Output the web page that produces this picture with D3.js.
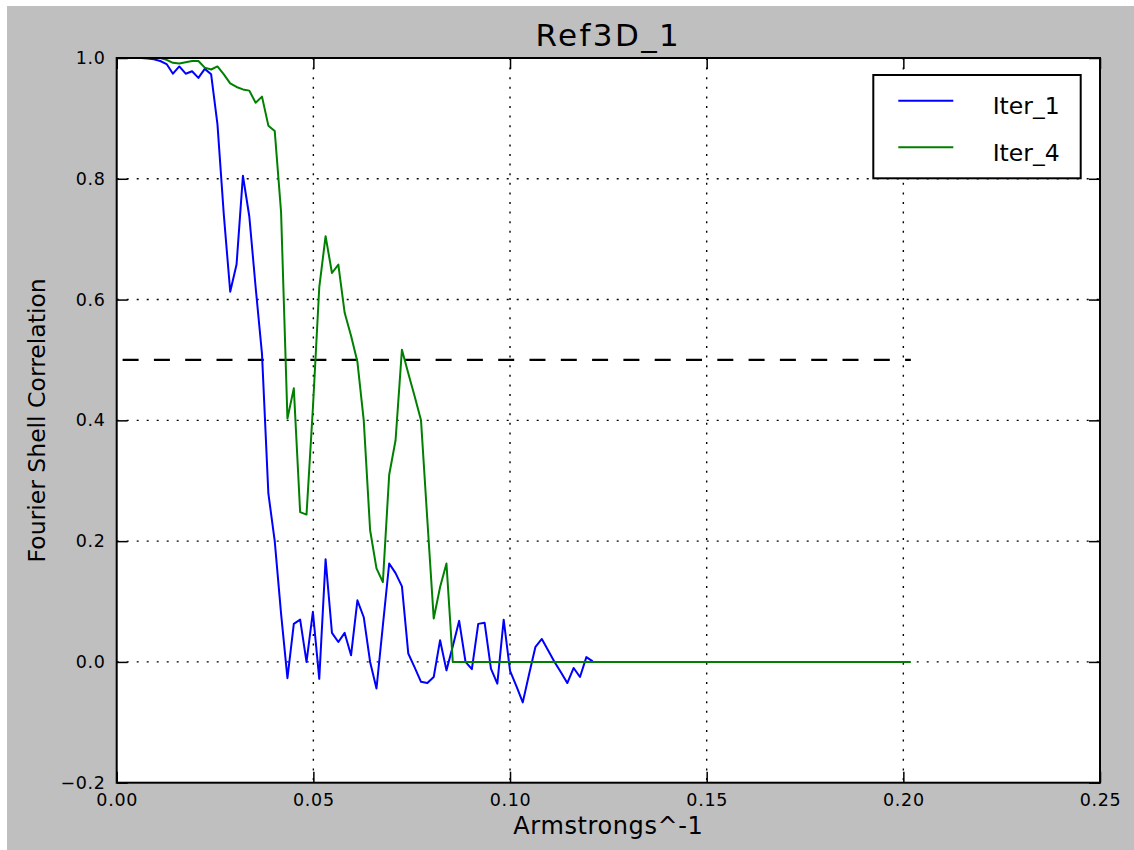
<!DOCTYPE html>
<html>
<head>
<meta charset="utf-8">
<script src="https://d3js.org/d3.v7.min.js"></script>
<style>
  html, body { margin: 0; padding: 0; background: #ffffff; }
  svg { display: block; font-family: "DejaVu Sans", sans-serif; }
</style>
</head>
<body>
<div id="fsc-chart"></div>
<script>
// spatial frequency (1/A) of each shell
var freq = [
  0.00460, 0.00622, 0.00784, 0.00945, 0.01107, 0.01269, 0.01430, 0.01592,
  0.01754, 0.01916, 0.02077, 0.02239, 0.02401, 0.02562, 0.02724, 0.02886,
  0.03047, 0.03209, 0.03371, 0.03533, 0.03694, 0.03856, 0.04018, 0.04179,
  0.04341, 0.04503, 0.04664, 0.04826, 0.04988, 0.05150, 0.05311, 0.05473,
  0.05635, 0.05796, 0.05958, 0.06120, 0.06281, 0.06443, 0.06605, 0.06767,
  0.06928, 0.07090, 0.07252, 0.07413, 0.07575, 0.07737, 0.07898, 0.08060,
  0.08222, 0.08384, 0.08545, 0.08707, 0.08869, 0.09030, 0.09192, 0.09354,
  0.09515, 0.09677, 0.09839, 0.10001, 0.10162, 0.10324, 0.10486, 0.10647,
  0.10809, 0.10971, 0.11132, 0.11294, 0.11456, 0.11618, 0.11779, 0.11941,
  0.12103
];

// FSC of the first iteration
var iter1 = [
  1.000, 1.000, 0.999, 0.998, 0.995, 0.990, 0.974, 0.986,
  0.974, 0.978, 0.967, 0.982, 0.973, 0.890, 0.740, 0.613,
  0.658, 0.805, 0.738, 0.620, 0.510, 0.279, 0.200, 0.080,
  -0.027, 0.063, 0.070, 0.000, 0.083, -0.028, 0.170, 0.048,
  0.033, 0.048, 0.011, 0.102, 0.074, 0.000, -0.044, 0.060,
  0.163, 0.147, 0.125, 0.014, -0.009, -0.033, -0.035, -0.025,
  0.036, -0.014, 0.026, 0.068, 0.000, -0.012, 0.063, 0.065,
  -0.011, -0.036, 0.070, -0.015, -0.040, -0.067, -0.020, 0.025,
  0.038, 0.019, 0.000, -0.017, -0.035, -0.010, -0.025, 0.008,
  0.001
];

// FSC of the fourth iteration (null = no shell)
var iter4 = [
  null, null, null, null, 1.000, 0.997, 0.992, 0.991,
  0.993, 0.995, 0.995, 0.984, 0.981, 0.986, 0.973, 0.958,
  0.952, 0.948, 0.946, 0.926, 0.936, 0.888, 0.879, 0.745,
  0.403, 0.453, 0.248, 0.244, 0.420, 0.620, 0.705, 0.644,
  0.658, 0.578, 0.540, 0.497, 0.400, 0.218, 0.155, 0.132,
  0.310, 0.367, 0.517, 0.478, 0.440, 0.400, 0.235, 0.072,
  0.124, 0.163, 0.000, 0.000, 0.000, 0.000, 0.000, 0.000,
  0.000, 0.000, 0.000, 0.000, 0.000, 0.000, 0.000, 0.000,
  0.000, 0.000, 0.000, 0.000, 0.000, 0.000, 0.000, 0.000,
  0.000
];

// iter4 is flat at zero out to the last shell
var lastShell = 0.2019;
var thresholdStart = 0.0015;
var threshold = 0.5;

var seriesNames = ["Iter_1", "Iter_4"];
var seriesColors = ["#0000ff", "#008000"];
var xTicks = [0.00, 0.05, 0.10, 0.15, 0.20, 0.25];
var yTicks = [-0.2, 0.0, 0.2, 0.4, 0.6, 0.8, 1.0];

var W = 1134, H = 850;
var margin = {top: 58, right: 34, bottom: 67.3, left: 116.7},
    width = W - margin.left - margin.right,
    height = H - margin.top - margin.bottom;

var root = d3.select("#fsc-chart")
  .append("svg")
  .attr("width", W)
  .attr("height", H);

// figure background (grey, with thin white strip top/left)
root.append("rect")
  .attr("x", 7).attr("y", 6)
  .attr("width", W - 7).attr("height", H - 6)
  .attr("fill", "#bfbfbf");

var svg = root.append("g")
  .attr("transform", "translate(" + margin.left + "," + margin.top + ")");

svg.append("rect")
  .attr("width", width)
  .attr("height", height)
  .attr("fill", "#ffffff");

var x = d3.scaleLinear().domain([0, 0.25]).range([0, width]);
var y = d3.scaleLinear().domain([-0.2, 1.0]).range([height, 0]);

// dotted grid
svg.append("g")
  .selectAll("line")
  .data(xTicks.slice(1, -1))
  .enter().append("line")
  .attr("x1", function(d) { return x(d); })
  .attr("x2", function(d) { return x(d); })
  .attr("y1", 0).attr("y2", height)
  .attr("stroke", "#000").attr("stroke-width", 1.4)
  .attr("stroke-dasharray", "2,7.6");

svg.append("g")
  .selectAll("line")
  .data(yTicks.slice(1, -1))
  .enter().append("line")
  .attr("y1", function(d) { return y(d); })
  .attr("y2", function(d) { return y(d); })
  .attr("x1", 0).attr("x2", width)
  .attr("stroke", "#000").attr("stroke-width", 1.4)
  .attr("stroke-dasharray", "2,8");

// 0.5 threshold
svg.append("line")
  .attr("x1", x(thresholdStart)).attr("x2", x(lastShell))
  .attr("y1", y(threshold)).attr("y2", y(threshold))
  .attr("stroke", "#000").attr("stroke-width", 2.2)
  .attr("stroke-dasharray", "16,15.3");

// curves
var line = d3.line()
  .defined(function(d) { return d.v !== null; })
  .x(function(d) { return x(d.f); })
  .y(function(d) { return y(d.v); });

var series1 = freq.map(function(f, i) { return {f: f, v: iter1[i]}; });
var series4 = freq.map(function(f, i) { return {f: f, v: iter4[i]}; });
series4.push({f: lastShell, v: 0});

[series1, series4].forEach(function(s, i) {
  svg.append("path")
    .datum(s)
    .attr("fill", "none")
    .attr("stroke", seriesColors[i])
    .attr("stroke-width", 2)
    .attr("stroke-linejoin", "round")
    .attr("d", line);
});

// axes, ticks pointing inward on all four sides
var fmtX = d3.format(".2f"), fmtY = d3.format(".1f");

function styleAxis(g) {
  g.select(".domain").remove();
  g.selectAll(".tick line").attr("stroke", "#000").attr("stroke-width", 1.5);
  g.selectAll(".tick text")
    .attr("fill", "#000")
    .style("font-family", "DejaVu Sans")
    .style("font-size", "17.5px")
    .style("letter-spacing", "0.7px");
}

svg.append("g")
  .attr("transform", "translate(0," + height + ")")
  .call(d3.axisBottom(x).tickValues(xTicks).tickFormat(fmtX)
    .tickSizeInner(-11).tickSizeOuter(0).tickPadding(11))
  .call(styleAxis);

svg.append("g")
  .call(d3.axisLeft(y).tickValues(yTicks).tickFormat(fmtY)
    .tickSizeInner(-11).tickSizeOuter(0).tickPadding(11))
  .call(styleAxis);

svg.append("g")
  .call(d3.axisTop(x).tickValues(xTicks).tickFormat("")
    .tickSizeInner(-11).tickSizeOuter(0))
  .call(styleAxis);

svg.append("g")
  .attr("transform", "translate(" + width + ",0)")
  .call(d3.axisRight(y).tickValues(yTicks).tickFormat("")
    .tickSizeInner(-11).tickSizeOuter(0))
  .call(styleAxis);

// frame
svg.append("rect")
  .attr("width", width)
  .attr("height", height)
  .attr("fill", "none")
  .attr("stroke", "#000")
  .attr("stroke-width", 2);

// title and axis labels
svg.append("text")
  .attr("x", width / 2)
  .attr("y", 46 - margin.top)
  .attr("text-anchor", "middle")
  .style("font-size", "31px")
  .style("letter-spacing", "2.4px")
  .text("Ref3D_1");

svg.append("text")
  .attr("x", width / 2)
  .attr("y", 834 - margin.top)
  .attr("text-anchor", "middle")
  .style("font-size", "24px")
  .style("letter-spacing", "0.6px")
  .text("Armstrongs^-1");

svg.append("text")
  .attr("transform", "rotate(-90)")
  .attr("x", -height / 2)
  .attr("y", 45 - margin.left)
  .attr("text-anchor", "middle")
  .style("font-size", "23.5px")
  .text("Fourier Shell Correlation");

// legend
var legend = svg.append("g")
  .attr("transform", "translate(" + (873.3 - margin.left) + "," + (75 - margin.top) + ")");

legend.append("rect")
  .attr("width", 207.4)
  .attr("height", 103.3)
  .attr("fill", "#ffffff")
  .attr("stroke", "#000")
  .attr("stroke-width", 2);

var item = legend.selectAll(".item")
  .data(seriesNames)
  .enter().append("g")
  .attr("class", "item")
  .attr("transform", function(d, i) { return "translate(0," + (25.7 + i * 46.6) + ")"; });

item.append("line")
  .attr("x1", 25).attr("x2", 80)
  .attr("stroke", function(d, i) { return seriesColors[i]; })
  .attr("stroke-width", 2);

item.append("text")
  .attr("x", 119.4)
  .attr("y", 13.3)
  .style("font-size", "23.5px")
  .text(function(d) { return d; });
</script>
</body>
</html>
